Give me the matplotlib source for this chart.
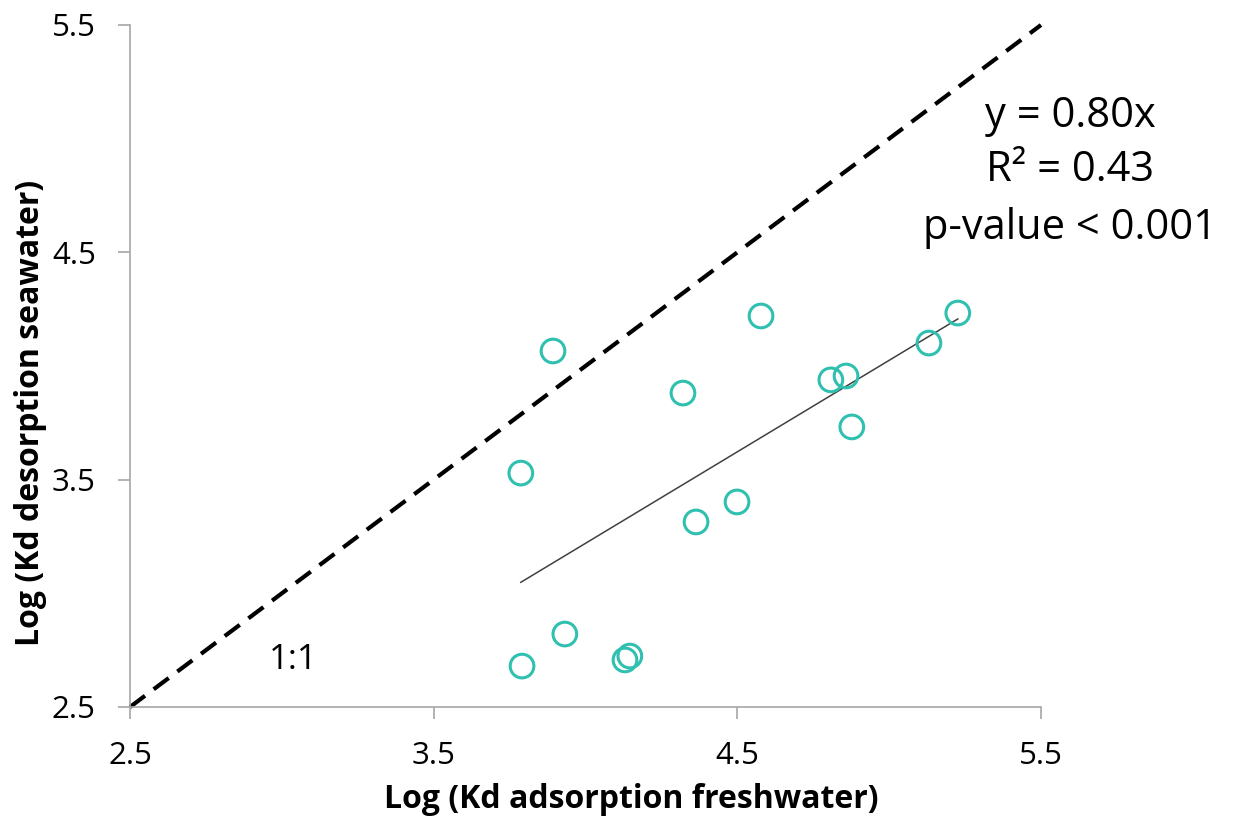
import matplotlib
matplotlib.use("Agg")
import matplotlib.pyplot as plt
import numpy as np

plt.rcParams['font.family'] = ['Open Sans', 'DejaVu Sans']

# Data
x_fresh = [3.893, 3.787, 3.791, 3.932, 4.130, 4.146, 4.321, 4.364, 4.499,
           4.578, 4.808, 4.858, 4.877, 5.131, 5.226]
y_sea = [4.066, 3.529, 2.680, 2.821, 2.707, 2.724, 3.881, 3.314, 3.402,
         4.220, 3.939, 3.956, 3.732, 4.101, 4.233]
slope = 0.805
ticks = [2.5, 3.5, 4.5, 5.5]
tick_labels = ["2.5", "3.5", "4.5", "5.5"]
stats_lines = ["y = 0.80x", "R² = 0.43", "p-value < 0.001"]

fig = plt.figure(figsize=(12.39, 8.23), dpi=100)
ax = fig.add_axes([130/1239, 1-707/823, 911/1239, 682/823])

spine_col = '#a6a6a6'
# 1:1 line
ax.plot([2.5, 5.5], [2.5, 5.5], color='black', lw=3, linestyle=(0, (4.5, 2.6)),
        clip_on=False, zorder=2)
# trend line through origin
xl = np.array([min(x_fresh), max(x_fresh)])
ax.plot(xl, slope * xl, color='#404040', lw=1.1, zorder=3)
# points
ax.scatter(x_fresh, y_sea, s=290, facecolors='none', edgecolors='#2fc0b0',
           linewidths=2.2, zorder=4)

ax.set_xlim(2.5, 5.5)
ax.set_ylim(2.5, 5.5)
ax.set_xticks(ticks)
ax.set_xticklabels(tick_labels)
ax.set_yticks(ticks)
ax.set_yticklabels(tick_labels)
for s in ['top', 'right']:
    ax.spines[s].set_visible(False)
for s in ['left', 'bottom']:
    ax.spines[s].set_color(spine_col)
    ax.spines[s].set_linewidth(1.2)
ax.tick_params(axis='both', direction='out', length=8.6, width=1.2,
               color=spine_col, labelsize=22.5, labelcolor='black')
ax.tick_params(axis='x', pad=16)
ax.tick_params(axis='y', pad=16)

ax.set_xlabel("Log (Kd adsorption freshwater)", fontsize=23, fontweight='bold')
ax.set_ylabel("Log (Kd desorption seawater)", fontsize=23, fontweight='bold')
ax.xaxis.set_label_coords(0.55, -0.136)
ax.yaxis.set_label_coords(-0.109, 0.431)
ax.xaxis.label.set_va('center')
ax.yaxis.label.set_va('center')

ax.text(3.037, 2.707, "1:1", fontsize=25, ha='center', va='center')

ys = [0.8666, 0.787, 0.702]
for t, yy in zip(stats_lines, ys):
    ax.text(1.032, yy, t, transform=ax.transAxes, fontsize=30, ha='center',
            va='center', clip_on=False)

fig.savefig("out.png", dpi=100)
